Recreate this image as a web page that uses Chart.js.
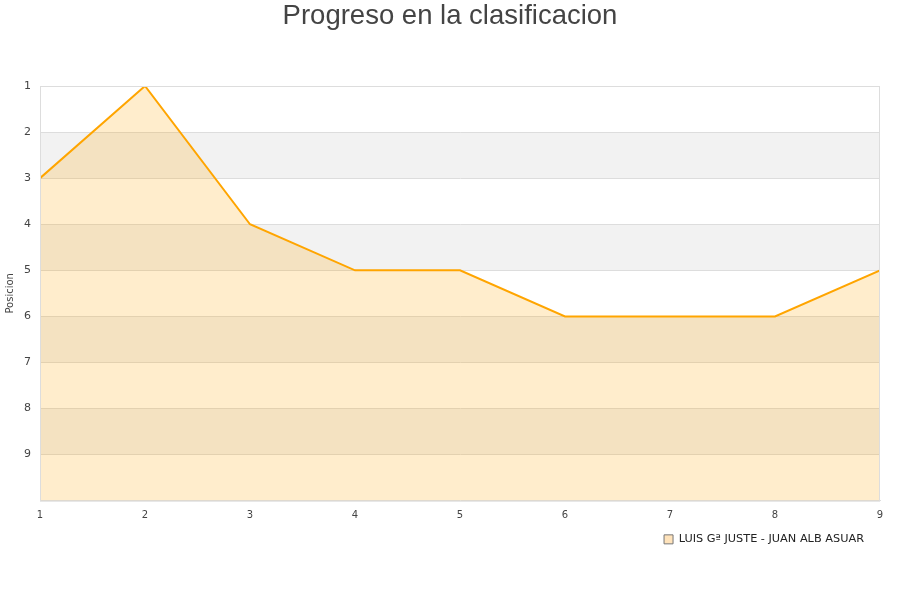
<!DOCTYPE html>
<html>
<head>
<meta charset="utf-8">
<script src="https://cdn.jsdelivr.net/npm/chart.js@4/dist/chart.umd.min.js"></script>
<style>
  html, body { margin: 0; padding: 0; background: #fff; }
  #wrap { width: 900px; height: 600px; }
</style>
</head>
<body>
<div id="wrap"><canvas id="chart"></canvas></div>
<script>
// Jornadas and positions
const jornadas = [1, 2, 3, 4, 5, 6, 7, 8, 9];
const posiciones = [3, 1, 4, 5, 5, 6, 6, 6, 5];
const equipo = 'LUIS Gª JUSTE - JUAN ALB ASUAR';
const yTicks = [1, 2, 3, 4, 5, 6, 7, 8, 9];

// alternate grey bands + frame around the plot area
const bandsPlugin = {
    id: 'bands',
    afterLayout(chart) {
        // nudge the legend a bit left of the plot edge
        chart.legend.left -= 13;
        chart.legend.right -= 13;
    },
    beforeDraw(chart) {
        const { ctx, chartArea, scales } = chart;
        const y = scales.y;
        ctx.save();
        ctx.fillStyle = '#f2f2f2';
        for (let v = 2; v < 10; v += 2) {
            const top = y.getPixelForValue(v);
            const bottom = y.getPixelForValue(v + 1);
            ctx.fillRect(chartArea.left, top, chartArea.right - chartArea.left, bottom - top);
        }
        ctx.restore();
    },
    afterDraw(chart) {
        const { ctx, chartArea } = chart;
        ctx.save();
        ctx.strokeStyle = '#dddddd';
        ctx.lineWidth = 1;
        ctx.strokeRect(chartArea.left + 0.5, chartArea.top + 0.5,
            chartArea.right - chartArea.left - 1, chartArea.bottom - chartArea.top);
        ctx.restore();
    }
};

const ctx = document.getElementById('chart').getContext('2d');
new Chart(ctx, {
    type: 'line',
    data: {
        labels: jornadas,
        datasets: [{
            label: equipo,
            data: jornadas.map((j, i) => ({ x: j, y: posiciones[i] })),
            borderColor: '#ffa500',
            backgroundColor: 'rgba(255, 165, 0, 0.2)',
            borderWidth: 2,
            pointRadius: 0,
            fill: { value: 10 },
            tension: 0
        }]
    },
    options: {
        responsive: true,
        maintainAspectRatio: false,
        animation: false,
        layout: { padding: { left: 0, right: 0, top: 0, bottom: 45 } },
        plugins: {
            title: {
                display: true,
                text: 'Progreso en la clasificacion',
                color: '#444',
                font: { family: 'Liberation Sans', size: 27.5, weight: 'normal' },
                padding: { top: 0, bottom: 53 }
            },
            legend: {
                position: 'bottom',
                align: 'end',
                fullSize: false,
                labels: {
                    boxWidth: 9,
                    boxHeight: 9,
                    padding: 3,
                    color: '#222',
                    font: { family: 'DejaVu Sans', size: 11.3 },
                    generateLabels(chart) {
                        return [{
                            text: equipo,
                            fillStyle: 'rgba(255, 200, 120, 0.5)',
                            strokeStyle: '#777',
                            lineWidth: 1,
                            datasetIndex: 0,
                            fontColor: '#222'
                        }];
                    }
                }
            },
            tooltip: { enabled: false }
        },
        scales: {
            x: {
                type: 'linear',
                min: 1,
                max: 9,
                grid: { display: false, drawTicks: false },
                border: { color: '#dddddd' },
                ticks: {
                    stepSize: 1,
                    padding: 9,
                    color: '#444',
                    font: { family: 'DejaVu Sans', size: 10 }
                }
            },
            y: {
                min: 1,
                max: 10,
                reverse: true,
                grid: { color: '#dddddd', drawTicks: false },
                border: { color: '#dddddd' },
                title: {
                    display: true,
                    text: 'Posicion',
                    color: '#444',
                    font: { family: 'DejaVu Sans', size: 10 }
                },
                afterBuildTicks(scale) {
                    scale.ticks = yTicks.map(v => ({ value: v }));
                },
                afterFit(scale) {
                    scale.width = 40;
                },
                ticks: {
                    padding: 9,
                    color: '#444',
                    font: { family: 'DejaVu Sans', size: 11 }
                }
            },
            yRight: {
                position: 'right',
                display: true,
                grid: { display: false, drawTicks: false },
                border: { display: false },
                ticks: { display: false },
                afterFit(scale) {
                    scale.width = 20;
                }
            }
        }
    },
    plugins: [bandsPlugin]
});
</script>
</body>
</html>
